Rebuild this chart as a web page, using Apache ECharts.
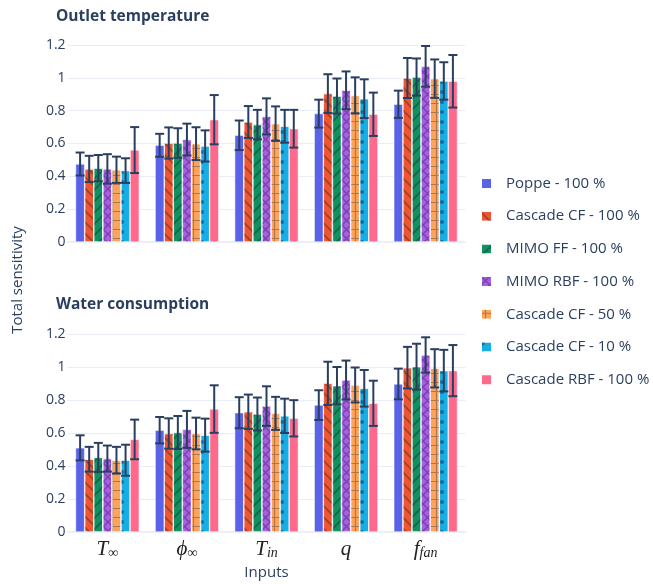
<!DOCTYPE html>
<html>
<head>
<meta charset="utf-8">
<script src="https://cdn.jsdelivr.net/npm/echarts@6/dist/echarts.min.js"></script>
<style>
  html, body { margin: 0; padding: 0; background: #fff; }
  #main { width: 653px; height: 584px; }
</style>
</head>
<body>
<div id="main"></div>
<script>
// inputs on the x axis
var inputs = ['T_inf', 'phi_inf', 'T_in', 'q', 'f_fan'];
var models = ['Poppe - 100 %', 'Cascade CF - 100 %', 'MIMO FF - 100 %', 'MIMO RBF - 100 %',
    'Cascade CF - 50 %', 'Cascade CF - 10 %', 'Cascade RBF - 100 %'];
var colors = ['#5a63e8', '#f0552f', '#0f9160', '#a95de8', '#fda35a', '#17aee6', '#ff6a8c'];

// outlet temperature: one row per model, one column per input
var outletMean = [
    [0.475, 0.589, 0.650, 0.782, 0.839],
    [0.445, 0.603, 0.731, 0.904, 0.999],
    [0.450, 0.603, 0.715, 0.889, 1.005],
    [0.445, 0.624, 0.765, 0.924, 1.070],
    [0.440, 0.599, 0.721, 0.893, 0.995],
    [0.435, 0.585, 0.705, 0.873, 0.981],
    [0.560, 0.745, 0.690, 0.778, 0.979]
];
var outletErr = [
    [0.070, 0.070, 0.090, 0.085, 0.083],
    [0.080, 0.095, 0.097, 0.118, 0.122],
    [0.080, 0.090, 0.090, 0.107, 0.113],
    [0.090, 0.097, 0.110, 0.115, 0.124],
    [0.080, 0.100, 0.105, 0.110, 0.117],
    [0.075, 0.095, 0.100, 0.118, 0.114],
    [0.140, 0.150, 0.115, 0.132, 0.160]
];
// water consumption
var waterMean = [
    [0.510, 0.617, 0.723, 0.769, 0.897],
    [0.441, 0.597, 0.729, 0.901, 0.996],
    [0.452, 0.603, 0.715, 0.887, 1.002],
    [0.445, 0.622, 0.763, 0.921, 1.073],
    [0.435, 0.597, 0.719, 0.891, 0.992],
    [0.435, 0.587, 0.704, 0.871, 0.978],
    [0.561, 0.745, 0.689, 0.780, 0.978]
];
var waterErr = [
    [0.076, 0.080, 0.094, 0.090, 0.093],
    [0.075, 0.092, 0.104, 0.131, 0.126],
    [0.088, 0.100, 0.100, 0.113, 0.139],
    [0.079, 0.112, 0.120, 0.118, 0.107],
    [0.081, 0.096, 0.100, 0.106, 0.116],
    [0.094, 0.100, 0.104, 0.111, 0.126],
    [0.120, 0.144, 0.110, 0.137, 0.155]
];

var txt = '#2a3f5f';
var patCol = 'rgba(30,30,50,0.35)';
// fill patterns like plotly: none, /, \, x, +, .
var decals = [
    null,
    {symbol: 'rect', symbolSize: 1, dashArrayX: [1, 0], dashArrayY: [1.2, 5.6], rotation: Math.PI / 4, color: patCol},
    {symbol: 'rect', symbolSize: 1, dashArrayX: [1, 0], dashArrayY: [1.2, 5.6], rotation: -Math.PI / 4, color: patCol},
    {symbol: 'path://M0,0L1.2,0L10,8.8L10,10L8.8,10L0,1.2Z M10,0L10,1.2L1.2,10L0,10L0,8.8L8.8,0Z',
        symbolSize: 1, dashArrayX: [9, 0], dashArrayY: [9, 0], color: patCol},
    {symbol: 'path://M0,4.4L10,4.4L10,5.6L0,5.6Z M4.4,0L5.6,0L5.6,10L4.4,10Z',
        symbolSize: 1, dashArrayX: [8.7, 0], dashArrayY: [8.7, 0], color: patCol},
    {symbol: 'circle', symbolSize: 1, dashArrayX: [3.2, 5.5], dashArrayY: [3.2, 5.5], color: 'rgba(20,40,80,0.5)'},
    null
];

var labelMap = {
    'T_inf': '{i|T}{s|∞}',
    'phi_inf': '{i|ϕ}{s|∞}',
    'T_in': '{i|T}{s|in}',
    'q': '{i|q}',
    'f_fan': '{i|f}{s|fan}'
};

function errRender(params, api) {
    var c = api.value(0), v = api.value(1), e = api.value(2), k = api.value(3);
    var band = api.size([1, 0])[0];
    var bw = band * 0.8 / 7;
    var x = api.coord([c, v])[0] - band * 0.4 + bw * (k + 0.5);
    var hi = api.coord([c, v + e])[1];
    var lo = api.coord([c, v - e])[1];
    var cap = 4.5;
    var st = {stroke: txt, lineWidth: 2};
    return {
        type: 'group',
        children: [
            {type: 'line', shape: {x1: x, y1: hi, x2: x, y2: lo}, style: st},
            {type: 'line', shape: {x1: x - cap, y1: hi, x2: x + cap, y2: hi}, style: st},
            {type: 'line', shape: {x1: x - cap, y1: lo, x2: x + cap, y2: lo}, style: st}
        ]
    };
}

function errData(mean, err) {
    var out = [];
    for (var k = 0; k < mean.length; k++) {
        for (var c = 0; c < inputs.length; c++) {
            out.push([c, mean[k][c], err[k][c], k]);
        }
    }
    return out;
}

var grids = [
    {left: 67.6, width: 397.8, top: 45, height: 197},
    {left: 67.6, width: 397.8, top: 334, height: 198}
];
var xAxes = [], yAxes = [], series = [];
for (var g = 0; g < 2; g++) {
    xAxes.push({
        type: 'category', gridIndex: g, data: inputs,
        axisTick: {show: false},
        axisLine: {show: true, lineStyle: {color: '#ebf0f8', width: 2}},
        axisLabel: g === 0 ? {show: false} : {
            margin: 4,
            formatter: function (v) { return labelMap[v]; },
            rich: {
                i: {fontFamily: 'Liberation Serif', fontStyle: 'italic', fontSize: 21, color: '#222', verticalAlign: 'bottom', lineHeight: 24},
                s: {fontFamily: 'Liberation Serif', fontStyle: 'italic', fontSize: 14, color: '#222', verticalAlign: 'bottom', lineHeight: 24, padding: [8, 0, 0, 0]}
            }
        },
        name: g === 1 ? 'Inputs' : '',
        nameLocation: 'middle', nameGap: 33,
        nameTextStyle: {fontFamily: 'Open Sans', fontSize: 15, color: txt}
    });
    yAxes.push({
        type: 'value', gridIndex: g, min: 0, max: 1.2, interval: 0.2,
        axisLine: {show: false}, axisTick: {show: false},
        splitLine: {lineStyle: {color: '#e9eef6', width: 1}},
        axisLabel: {margin: 2, fontFamily: 'Open Sans', fontSize: 14, color: txt}
    });
    var mean = g === 0 ? outletMean : waterMean;
    var err = g === 0 ? outletErr : waterErr;
    for (var k = 0; k < models.length; k++) {
        var st = {color: colors[k], borderColor: '#fff', borderWidth: 0.5};
        if (decals[k]) st.decal = decals[k];
        series.push({
            type: 'bar', name: models[k], xAxisIndex: g, yAxisIndex: g,
            data: mean[k],
            barCategoryGap: '20%', barGap: '0%',
            itemStyle: st,
            emphasis: {disabled: true}
        });
    }
    series.push({
        type: 'custom', xAxisIndex: g, yAxisIndex: g, z: 10, silent: true,
        renderItem: errRender,
        encode: {x: 0, y: 1},
        data: errData(mean, err)
    });
}

var myChart = echarts.init(document.getElementById('main'), null, {renderer: 'canvas'});
var option = {
    animation: false,
    backgroundColor: '#fff',
    title: [
        {text: 'Outlet temperature', left: 51, top: 4, textStyle: {fontFamily: 'Open Sans', fontWeight: 'bold', fontSize: 15.5, color: txt}},
        {text: 'Water consumption', left: 51, top: 292, textStyle: {fontFamily: 'Open Sans', fontWeight: 'bold', fontSize: 15.5, color: txt}}
    ],
    legend: {
        orient: 'vertical', left: 480, top: 175.5, padding: 0,
        data: models,
        icon: 'rect', itemWidth: 11, itemHeight: 11, itemGap: 16.7,
        textStyle: {fontFamily: 'Open Sans', fontSize: 15, color: txt, lineHeight: 16, padding: [0, 0, 0, 9]}
    },
    grid: grids,
    xAxis: xAxes,
    yAxis: yAxes,
    series: series,
    graphic: [{
        type: 'text', rotation: Math.PI / 2,
        x: 18, y: 280,
        style: {text: 'Total sensitivity', fontFamily: 'Open Sans', fontSize: 15, fill: txt, align: 'center', verticalAlign: 'middle'}
    }]
};
myChart.setOption(option);
</script>
</body>
</html>
